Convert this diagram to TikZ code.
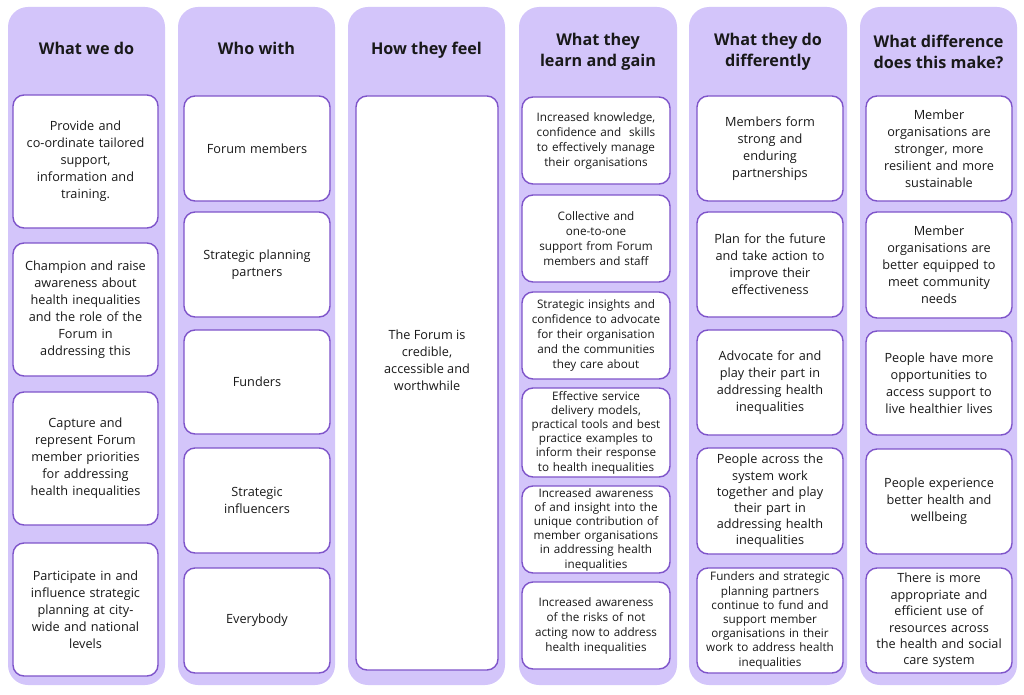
\documentclass[tikz,border=0pt]{standalone}
\usepackage{fontspec}
\setmainfont{Open Sans}
\definecolor{lav}{RGB}{211,197,250}
\definecolor{pborder}{RGB}{126,84,202}
\definecolor{ink}{RGB}{25,25,25}
\tikzset{
  colbg/.style={fill=lav, draw=none, rounded corners=20pt, inner sep=0pt},
  cardbox/.style={fill=white, draw=pborder, line width=1.4pt, rounded corners=11pt, inner sep=0pt, align=center, text=ink},
  headtxt/.style={font=\fontsize{16.2}{21}\selectfont\bfseries, align=center, text=ink},
  plaintxt/.style={align=center, text=ink}
}
\newcommand{\mycol}[5]{%
  \pgfmathsetmacro{\myW}{#4-#2}\pgfmathsetmacro{\myH}{#5-#3}%
  \pgfmathsetmacro{\myX}{(#2+#4)/2}\pgfmathsetmacro{\myY}{(#3+#5)/2}%
  \node[colbg, minimum width=\myW pt, minimum height=\myH pt] (#1) at (\myX,\myY) {};}
\newcommand{\mybox}[7]{%
  \pgfmathsetmacro{\myW}{#4-#2}\pgfmathsetmacro{\myH}{#5-#3}%
  \pgfmathsetmacro{\myX}{(#2+#4)/2}\pgfmathsetmacro{\myY}{(#3+#5)/2}%
  \pgfmathsetmacro{\myT}{#4-#2-2}%
  \node[cardbox, minimum width=\myW pt, minimum height=\myH pt, text width=\myT pt, font=#6] (#1) at (\myX,\myY) {#7};}
\newcommand{\fnorm}{\fontsize{12.7}{17}\selectfont}
\newcommand{\fsmall}{\fontsize{11.7}{15}\selectfont}
\newcommand{\ftight}{\fontsize{11.7}{14.2}\selectfont}
\begin{document}
\begin{tikzpicture}[x=1pt,y=-1pt]
\useasboundingbox (0,0) rectangle (1024,695);
% columns
\mycol{c1}{8}{7}{165}{685}
\mycol{c2}{178}{7}{335}{685}
\mycol{c3}{348}{7}{505}{685}
\mycol{c4}{519}{7}{677}{685}
\mycol{c5}{689}{7}{847}{685}
\mycol{c6}{860}{7}{1017}{685}
% headers
\node[headtxt, anchor=base] (h1) at (86.5,55) {What we do};
\node[headtxt, anchor=base] (h2) at (256.5,55) {Who with};
\node[headtxt, anchor=base] (h3) at (426.5,55) {How they feel};
\node[headtxt] (h4) at (598,52) {What they\\learn and gain};
\node[headtxt] (h5) at (768,52) {What they do\\differently};
\node[headtxt] (h6) at (938.5,52) {What difference\\does this make?};
% column 1
\mybox{a1}{13}{95}{158}{228}{\fnorm}{Provide and\\co-ordinate tailored\\support,\\information and\\training.}
\mybox{a2}{13}{243}{158}{376}{\fnorm}{Champion and raise\\awareness about\\health inequalities\\and the role of the\\Forum in\\addressing this}
\mybox{a3}{13}{392}{158}{525}{\fnorm}{Capture and\\represent Forum\\member priorities\\for addressing\\health inequalities}
\mybox{a4}{13}{543}{158}{676}{\fnorm}{Participate in and\\influence strategic\\planning at city-\\wide and national\\levels}
% column 2
\mybox{b1}{184}{96}{330}{201}{\fnorm}{Forum members}
\mybox{b2}{184}{212}{330}{317}{\fnorm}{Strategic planning\\partners}
\mybox{b3}{184}{330}{330}{434}{\fnorm}{Funders}
\mybox{b4}{184}{448}{330}{553}{\fnorm}{Strategic\\influencers}
\mybox{b5}{184}{568}{330}{673}{\fnorm}{Everybody}
% column 3
\mybox{d1}{356}{96}{498}{670}{\fnorm}{}
\node[plaintxt, font=\fnorm] (d1t) at (427,360) {The Forum is\\credible,\\accessible and\\worthwhile};
% column 4
\mybox{e1}{522}{97}{670}{184}{\fsmall}{Increased knowledge,\\confidence and\ \ skills\\to effectively manage\\their organisations}
\mybox{e2}{522}{195}{670}{282}{\fsmall}{Collective and\\one-to-one\\support from Forum\\members and staff}
\mybox{e3}{522}{292}{670}{379}{\fsmall}{Strategic insights and\\confidence to advocate\\for their organisation\\and the communities\\they care about}
\mybox{e4}{522}{388}{670}{477}{\ftight}{Effective service\\delivery models,\\practical tools and best\\practice examples to\\inform their response\\to health inequalities}
\mybox{e5}{522}{486}{670}{573}{\ftight}{Increased awareness\\of and insight into the\\unique contribution of\\member organisations\\in addressing health\\inequalities}
\mybox{e6}{522}{582}{670}{669}{\fsmall}{Increased awareness\\of the risks of not\\acting now to address\\health inequalities}
% column 5
\mybox{f1}{697}{96}{843}{201}{\fnorm}{Members form\\strong and\\enduring\\partnerships}
\mybox{f2}{697}{212}{843}{317}{\fnorm}{Plan for the future\\and take action to\\improve their\\effectiveness}
\mybox{f3}{697}{330}{843}{435}{\fnorm}{Advocate for and\\play their part in\\addressing health\\inequalities}
\mybox{f4}{697}{448}{843}{554}{\fontsize{12.7}{16.2}\selectfont}{People across the\\system work\\together and play\\their part in\\addressing health\\inequalities}
\mybox{f5}{697}{568}{843}{673}{\ftight}{Funders and strategic\\planning partners\\continue to fund and\\support member\\organisations in their\\work to address health\\inequalities}
% column 6
\mybox{g1}{866}{96}{1012}{201}{\fnorm}{Member\\organisations are\\stronger, more\\resilient and more\\sustainable}
\mybox{g2}{866}{212}{1012}{318}{\fnorm}{Member\\organisations are\\better equipped to\\meet community\\needs}
\mybox{g3}{866}{331}{1012}{435}{\fnorm}{People have more\\opportunities to\\access support to\\live healthier lives}
\mybox{g4}{866}{449}{1012}{554}{\fnorm}{People experience\\better health and\\wellbeing}
\mybox{g5}{866}{568}{1012}{673}{\fontsize{12.7}{16.4}\selectfont}{There is more\\appropriate and\\efficient use of\\resources across\\the health and social\\care system}
\end{tikzpicture}
\end{document}
